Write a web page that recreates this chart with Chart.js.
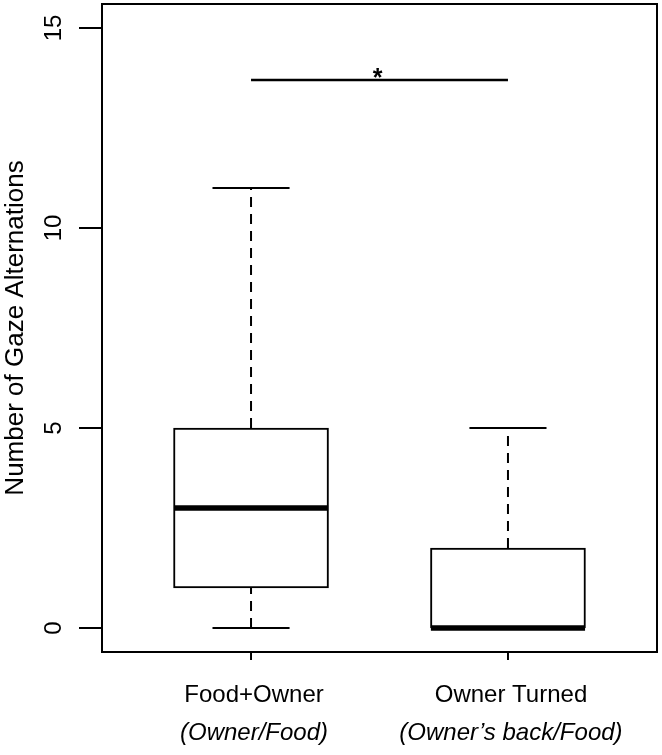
<!DOCTYPE html>
<html>
<head>
<meta charset="utf-8">
<script src="https://cdn.jsdelivr.net/npm/chart.js@4"></script>
<style>
  html, body { margin: 0; padding: 0; background: #fff; }
  #wrap { width: 662px; height: 755px; }
</style>
</head>
<body>
<div id="wrap"><canvas id="c" width="662" height="755"></canvas></div>
<script>
// ---- data ----
const categories = ['Food+Owner', 'Owner Turned'];
const subLabels = ['(Owner/Food)', '(Owner\u2019s back/Food)'];
const mins    = [0, 0];
const q1s     = [1, 0];
const medians = [3, 0];
const q3s     = [5, 2];
const maxs    = [11, 5];
const yTicks  = [0, 5, 10, 15];
const yTitle  = 'Number of Gaze Alternations';
const sigPair = [1, 2];
const sigValue = 13.7;
const sigLabel = '*';

// ---- styling constants ----
const FONT = '"Liberation Sans", Arial, Helvetica, sans-serif';
const boxHalf = 0.3;
const capHalf = 0.15;

const positions = categories.map((_, i) => i + 1);

const datasets = [];
datasets.push({
  type: 'bar',
  data: positions.map((p, i) => ({ x: p, y: [q1s[i], q3s[i]] })),
  backgroundColor: '#ffffff',
  borderColor: '#000000',
  borderWidth: 2,
  borderSkipped: false,
  barThickness: 155,
  order: 2
});
function seg(pts, width, dash) {
  datasets.push({
    type: 'line',
    data: pts,
    borderColor: '#000000',
    borderWidth: width,
    borderDash: dash || [],
    pointRadius: 0,
    fill: false,
    tension: 0,
    borderCapStyle: 'butt',
    order: 1
  });
}
positions.forEach((p, i) => {
  // upper whisker
  if (maxs[i] > q3s[i]) seg([{ x: p, y: q3s[i] }, { x: p, y: maxs[i] }], 2, [10, 7]);
  // lower whisker
  if (mins[i] < q1s[i]) seg([{ x: p, y: mins[i] }, { x: p, y: q1s[i] }], 2, [10, 7]);
  // caps
  seg([{ x: p - capHalf, y: maxs[i] }, { x: p + capHalf, y: maxs[i] }], 2);
  seg([{ x: p - capHalf, y: mins[i] }, { x: p + capHalf, y: mins[i] }], 2);
  // median
  seg([{ x: p - boxHalf, y: medians[i] }, { x: p + boxHalf, y: medians[i] }], 5.5);
});
// significance bar
seg([{ x: sigPair[0], y: sigValue }, { x: sigPair[1], y: sigValue }], 2.5);

const decor = {
  id: 'decor',
  afterDraw(chart) {
    const { ctx, chartArea: a, scales } = chart;
    const xs = scales.x, ys = scales.y;
    ctx.save();
    ctx.strokeStyle = '#000';
    ctx.fillStyle = '#000';
    ctx.lineWidth = 2;
    // frame
    ctx.strokeRect(a.left, a.top, a.right - a.left, a.bottom - a.top);
    // y ticks & labels
    ctx.font = '24px ' + FONT;
    yTicks.forEach(v => {
      const py = ys.getPixelForValue(v);
      ctx.beginPath(); ctx.moveTo(a.left - 23, py); ctx.lineTo(a.left, py); ctx.stroke();
      ctx.save();
      ctx.translate(61, py);
      ctx.rotate(-Math.PI / 2);
      ctx.textAlign = 'center';
      ctx.textBaseline = 'alphabetic';
      ctx.fillText(String(v), 0, 0);
      ctx.restore();
    });
    // y title
    ctx.save();
    ctx.translate(23, (a.top + a.bottom) / 2);
    ctx.rotate(-Math.PI / 2);
    ctx.textAlign = 'center';
    ctx.textBaseline = 'alphabetic';
    ctx.font = '26px ' + FONT;
    ctx.fillText(yTitle, 0, 0);
    ctx.restore();
    // x ticks & labels
    positions.forEach((p, i) => {
      const px = xs.getPixelForValue(p);
      ctx.beginPath(); ctx.moveTo(px, a.bottom); ctx.lineTo(px, a.bottom + 8); ctx.stroke();
      ctx.textAlign = 'center';
      ctx.textBaseline = 'alphabetic';
      ctx.font = '24px ' + FONT;
      ctx.fillText(categories[i], px + 3, 702);
      ctx.font = 'italic 24px ' + FONT;
      ctx.fillText(subLabels[i], px + 3, 740);
    });
    // significance star
    const sx = (xs.getPixelForValue(sigPair[0]) + xs.getPixelForValue(sigPair[1])) / 2;
    const sy = ys.getPixelForValue(sigValue);
    ctx.font = 'bold 25px ' + FONT;
    ctx.textAlign = 'center';
    ctx.textBaseline = 'alphabetic';
    ctx.fillText(sigLabel, sx - 2, sy + 6);
    ctx.restore();
  }
};

new Chart(document.getElementById('c'), {
  type: 'bar',
  data: { datasets },
  options: {
    responsive: false,
    animation: false,
    layout: { padding: { left: 102, right: 5, top: 4, bottom: 103 } },
    plugins: { legend: { display: false }, tooltip: { enabled: false } },
    scales: {
      x: { type: 'linear', min: 0.42, max: 2.58, display: false, offset: false },
      y: { type: 'linear', min: -0.6, max: 15.6, display: false }
    }
  },
  plugins: [decor]
});
</script>
</body>
</html>
